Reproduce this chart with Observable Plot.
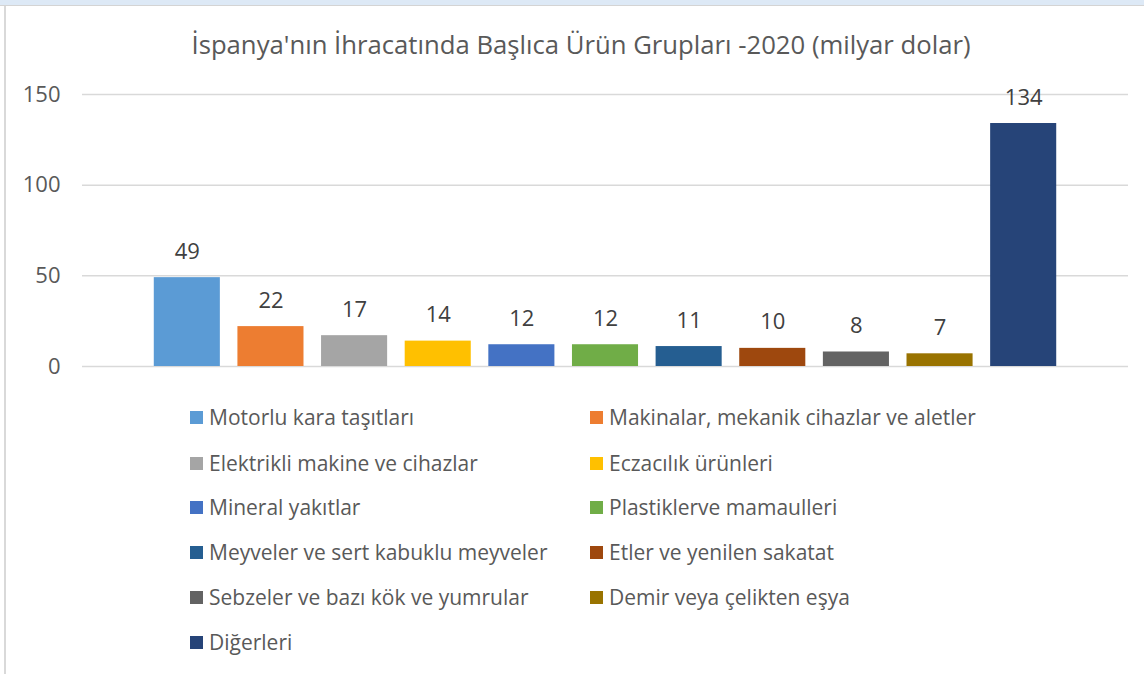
<!DOCTYPE html>
<html>
<head>
<meta charset="utf-8">
<script src="https://cdn.jsdelivr.net/npm/d3@7"></script>
<script src="https://cdn.jsdelivr.net/npm/@observablehq/plot@0.6"></script>
<style>
  html, body { margin: 0; padding: 0; background: #fff; }
  #wrap { position: relative; width: 1144px; height: 674px; overflow: hidden; font-family: "Open Sans", "Noto Sans", sans-serif; color: #595959; }
  #topband { position: absolute; left: 0; top: 0; width: 1144px; height: 5px; background: #dde9f6; border-bottom: 1.5px solid #d4d4d4; }
  #leftline { position: absolute; left: 4px; top: 6px; width: 2px; height: 668px; background: #d9d9d9; }
  #title { position: absolute; left: 0; width: 1162px; top: 27px; text-align: center; font-size: 25.7px; line-height: 36px; color: #595959; }
  #chart { position: absolute; left: 0; top: 60px; }
  #legend { position: absolute; left: 0; top: 0; }
  .item { position: absolute; display: flex; align-items: center; font-size: 21px; color: #595959; white-space: nowrap; }
  .sw { width: 13px; height: 13px; margin-right: 6px; }
</style>
</head>
<body>
<div id="wrap">
  <div id="topband"></div>
  <div id="leftline"></div>
  <div id="title">İspanya'nın İhracatında Başlıca Ürün Grupları -2020 (milyar dolar)</div>
  <div id="chart"></div>
  <div id="legend"></div>
</div>
<script>
const categories = [
  "Motorlu kara taşıtları",
  "Makinalar, mekanik cihazlar ve aletler",
  "Elektrikli makine ve cihazlar",
  "Eczacılık ürünleri",
  "Mineral yakıtlar",
  "Plastiklerve mamaulleri",
  "Meyveler ve sert kabuklu meyveler",
  "Etler ve yenilen sakatat",
  "Sebzeler ve bazı kök ve yumrular",
  "Demir veya çelikten eşya",
  "Diğerleri"
];
const values = [49, 22, 17, 14, 12, 12, 11, 10, 8, 7, 134];
const colors = ["#5B9BD5", "#ED7D31", "#A5A5A5", "#FFC000", "#4472C4", "#70AD47", "#255E91", "#9E480E", "#636363", "#997300", "#264478"];
const yTicks = [0, 50, 100, 150];

const data = categories.map((c, i) => ({category: c, value: values[i], color: colors[i]}));

const chart = Plot.plot({
  width: 1144,
  height: 320,
  marginTop: 34,
  marginBottom: 14,
  marginLeft: 82,
  marginRight: 16,
  style: {fontFamily: "'Open Sans', 'Noto Sans', sans-serif", fontSize: "22px", color: "#595959", background: "transparent"},
  x: {domain: categories, insetLeft: 63, insetRight: 63, paddingInner: 0.21, paddingOuter: 0.105, round: false, axis: null},
  y: {domain: [0, 150], ticks: yTicks, label: null},
  color: {domain: categories, range: colors},
  marks: [
    Plot.ruleY(yTicks, {stroke: "#d9d9d9", strokeWidth: 1.5}),
    Plot.axisY({ticks: yTicks, tickSize: 0, tickPadding: 22, fontSize: 22, fill: "#595959", label: null}),
    Plot.barY(data, {x: "category", y: "value", fill: "category"}),
    Plot.text(data, {x: "category", y: "value", text: d => String(d.value), dy: -26, fontSize: 22, fill: "#404040"})
  ]
});
document.getElementById("chart").appendChild(chart);

const legend = document.getElementById("legend");
const rowY = [417, 463, 507, 552, 597, 642];
categories.forEach((c, i) => {
  const col = i % 2, row = Math.floor(i / 2);
  const el = document.createElement("div");
  el.className = "item";
  el.style.left = (col === 0 ? 190 : 590) + "px";
  el.style.top = (rowY[row] - 14) + "px";
  el.style.height = "28px";
  el.innerHTML = `<span class="sw" style="background:${colors[i]}"></span><span>${c}</span>`;
  legend.appendChild(el);
});
</script>
</body>
</html>
